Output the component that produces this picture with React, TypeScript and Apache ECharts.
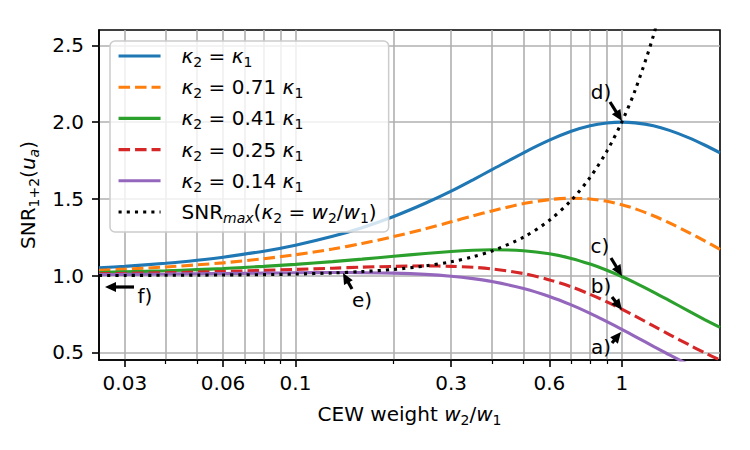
import React, { useEffect, useRef } from "react";
import * as echarts from "echarts";

// CEW weight ratio w2/w1 at which the curves are sampled
const weights = [0.025, 0.03, 0.04, 0.05, 0.06, 0.08, 0.1, 0.13, 0.16, 0.2, 0.25, 0.3, 0.35, 0.4, 0.5, 0.6, 0.7, 0.8, 0.9, 1.0, 1.1, 1.25, 1.4, 1.6, 1.8, 2.0];

// SNR_{1+2}(u_a) for each kappa ratio
const snrK100 = [1.05, 1.06, 1.08, 1.1, 1.12, 1.159, 1.198, 1.256, 1.312, 1.385, 1.471, 1.55, 1.624, 1.69, 1.8, 1.882, 1.94, 1.976, 1.994, 2.0, 1.995, 1.976, 1.946, 1.899, 1.849, 1.8];
const snrK071 = [1.035, 1.042, 1.056, 1.07, 1.083, 1.11, 1.136, 1.173, 1.209, 1.254, 1.305, 1.35, 1.389, 1.421, 1.469, 1.495, 1.504, 1.499, 1.484, 1.462, 1.435, 1.39, 1.343, 1.282, 1.224, 1.171];
const snrK041 = [1.02, 1.024, 1.031, 1.039, 1.046, 1.06, 1.073, 1.091, 1.107, 1.126, 1.144, 1.157, 1.165, 1.168, 1.162, 1.142, 1.112, 1.075, 1.035, 0.994, 0.953, 0.893, 0.837, 0.77, 0.712, 0.662];
const snrK025 = [1.012, 1.014, 1.018, 1.023, 1.027, 1.034, 1.04, 1.048, 1.055, 1.06, 1.063, 1.06, 1.054, 1.043, 1.013, 0.972, 0.927, 0.878, 0.829, 0.781, 0.736, 0.672, 0.616, 0.551, 0.496, 0.45];
const snrK014 = [1.006, 1.008, 1.01, 1.012, 1.013, 1.016, 1.018, 1.02, 1.019, 1.016, 1.008, 0.996, 0.98, 0.961, 0.916, 0.864, 0.809, 0.754, 0.7, 0.65, 0.603, 0.539, 0.483, 0.421, 0.37, 0.328];
// envelope SNR_max reached when kappa2/kappa1 equals w2/w1
const snrMax = [1.001, 1.001, 1.002, 1.003, 1.004, 1.006, 1.01, 1.017, 1.026, 1.04, 1.063, 1.09, 1.123, 1.16, 1.25, 1.36, 1.49, 1.64, 1.81, 2.0, 2.21, 2.563, 2.96];

const xMajorTicks = [0.03, 0.06, 0.1, 0.3, 0.6, 1];
const xMinorTicks = [0.04, 0.05, 0.07, 0.08, 0.09, 0.2, 0.4, 0.5, 0.7, 0.8, 0.9];
const yTicks = [0.5, 1.0, 1.5, 2.0, 2.5];

const FONT = "'DejaVu Sans', Verdana, sans-serif";
const BLACK = "#000000";
const GRID_GREY = "#b0b0b0";

const rich: Record<string, any> = {
  t: { fontSize: 20, fontFamily: FONT, color: BLACK, lineHeight: 26 },
  m: { fontSize: 20, fontFamily: FONT, fontStyle: "italic", color: BLACK, lineHeight: 26 },
  s: { fontSize: 14, fontFamily: FONT, color: BLACK, lineHeight: 14, verticalAlign: "bottom" },
  si: { fontSize: 14, fontFamily: FONT, fontStyle: "italic", color: BLACK, lineHeight: 14, verticalAlign: "bottom" },
  g: { width: 16, lineHeight: 26 },
};

type Curve = { name: string; label: string; values: number[]; color: string; dash: number[] | "solid" };

const curves: Curve[] = [
  { name: "κ2 = κ1", label: "{m|κ}{s|2}{t| = }{m|κ}{s|1}", values: snrK100, color: "#1f77b4", dash: "solid" },
  { name: "κ2 = 0.71 κ1", label: "{m|κ}{s|2}{t| = 0.71 }{m|κ}{s|1}", values: snrK071, color: "#ff7f0e", dash: [11.5, 5] },
  { name: "κ2 = 0.41 κ1", label: "{m|κ}{s|2}{t| = 0.41 }{m|κ}{s|1}", values: snrK041, color: "#2ca02c", dash: "solid" },
  { name: "κ2 = 0.25 κ1", label: "{m|κ}{s|2}{t| = 0.25 }{m|κ}{s|1}", values: snrK025, color: "#d62728", dash: [11.5, 5] },
  { name: "κ2 = 0.14 κ1", label: "{m|κ}{s|2}{t| = 0.14 }{m|κ}{s|1}", values: snrK014, color: "#9467bd", dash: "solid" },
  { name: "SNRmax(κ2 = w2/w1)", label: "{t|SNR}{si|max}{t|(}{m|κ}{s|2}{t| = }{m|w}{s|2}{t|/}{m|w}{s|1}{t|)}", values: snrMax, color: BLACK, dash: [3.1, 5.1] },
];

// annotation arrows: label text, label centre, arrow tail, arrow tip (pixels)
const notes = [
  { text: "d)", at: [601, 92], tail: [610, 102], tip: [622, 121] },
  { text: "c)", at: [600, 246], tail: [611, 258], tip: [622, 276] },
  { text: "b)", at: [601, 286], tail: [612, 297], tip: [622, 310] },
  { text: "a)", at: [601, 347], tail: [612, 343], tip: [621, 332] },
  { text: "e)", at: [362, 300], tail: [352, 289], tip: [343, 273] },
  { text: "f)", at: [145, 296], tail: [134, 287], tip: [105, 287] },
];

function arrowGraphics(tail: number[], tip: number[]) {
  const dx = tip[0] - tail[0];
  const dy = tip[1] - tail[1];
  const len = Math.hypot(dx, dy);
  const ux = dx / len;
  const uy = dy / len;
  const headLen = Math.min(11, len);
  const headHalf = 5;
  const bx = tip[0] - ux * headLen;
  const by = tip[1] - uy * headLen;
  const els: any[] = [];
  if (len > headLen) {
    els.push({
      type: "line",
      z: 100,
      shape: { x1: tail[0], y1: tail[1], x2: bx + ux, y2: by + uy },
      style: { stroke: BLACK, lineWidth: 3.2 },
    });
  }
  els.push({
    type: "polygon",
    z: 100,
    shape: {
      points: [
        [tip[0], tip[1]],
        [bx - uy * headHalf, by + ux * headHalf],
        [bx + uy * headHalf, by - ux * headHalf],
      ],
    },
    style: { fill: BLACK },
  });
  return els;
}

function buildOption() {
  const series: any[] = curves.map((c) => ({
    type: "line",
    name: c.name,
    data: c.values.map((v, i) => [weights[i], v]),
    symbol: "none",
    showSymbol: false,
    smooth: 0.3,
    clip: true,
    lineStyle: { color: c.color, width: 3.1, type: c.dash, cap: "butt" },
    itemStyle: { color: c.color },
    emphasis: { disabled: true },
  }));

  const labels: Record<string, string> = {};
  curves.forEach((c) => (labels[c.name] = "{g| }" + c.label));

  const graphics: any[] = [];
  notes.forEach((n) => {
    graphics.push({
      type: "text",
      z: 100,
      x: n.at[0],
      y: n.at[1],
      style: {
        text: n.text,
        fontSize: 20,
        fontFamily: FONT,
        fill: BLACK,
        align: "center",
        verticalAlign: "middle",
        textAlign: "center",
        textVerticalAlign: "middle",
      },
    });
    graphics.push(...arrowGraphics(n.tail, n.tip));
  });

  const tickStyle = { color: BLACK, width: 1.6 };
  const gridLine = { show: true, lineStyle: { color: GRID_GREY, width: 1.6 } };

  return {
    animation: false,
    backgroundColor: "#ffffff",
    textStyle: { fontFamily: FONT },
    grid: {
      left: 99,
      top: 30,
      right: 30,
      bottom: 90,
      show: true,
      borderColor: BLACK,
      borderWidth: 1.6,
      backgroundColor: "transparent",
      containLabel: false,
    },
    legend: {
      orient: "vertical",
      left: 110,
      top: 41,
      itemWidth: 42,
      itemHeight: 14,
      itemGap: 8.2,
      padding: [5, 12, 7, 7],
      backgroundColor: "rgba(255,255,255,0.8)",
      borderColor: "#cccccc",
      borderWidth: 1.5,
      borderRadius: 5,
      selectedMode: false,
      data: curves.map((c) => c.name),
      formatter: (name: string) => labels[name],
      itemStyle: { color: "rgba(0,0,0,0)", borderColor: "rgba(0,0,0,0)", borderWidth: 0 },
      lineStyle: { width: 3.1, cap: "butt" },
      textStyle: { fontSize: 20, fontFamily: FONT, color: BLACK, rich },
    },
    xAxis: [
      {
        type: "log",
        logBase: 10,
        min: 0.025,
        max: 2,
        name: "{t|CEW weight }{m|w}{s|2}{t|/}{m|w}{s|1}",
        nameLocation: "middle",
        nameGap: 41,
        nameTextStyle: { rich },
        axisLine: { show: true, lineStyle: { color: BLACK, width: 1.6 } },
        axisTick: { show: true, length: 7, lineStyle: tickStyle, customValues: xMajorTicks },
        axisLabel: {
          show: true,
          margin: 13,
          fontSize: 20,
          fontFamily: FONT,
          color: BLACK,
          customValues: xMajorTicks,
          formatter: (v: number) => String(v),
        },
        splitLine: gridLine,
        minorTick: { show: false },
        minorSplitLine: { show: false },
      },
      {
        type: "log",
        logBase: 10,
        min: 0.025,
        max: 2,
        position: "bottom",
        axisLine: { show: false },
        axisTick: { show: true, length: 4, lineStyle: { color: BLACK, width: 1.2 }, customValues: xMinorTicks },
        axisLabel: { show: false, customValues: xMinorTicks },
        splitLine: gridLine,
      },
    ],
    yAxis: {
      type: "value",
      min: 0.45,
      max: 2.6,
      name: "{t|SNR}{s|1+2}{t|(}{m|u}{si|a}{t|)}",
      nameLocation: "middle",
      nameGap: 52,
      nameTextStyle: { rich },
      axisLine: { show: true, lineStyle: { color: BLACK, width: 1.6 } },
      axisTick: { show: true, length: 7, lineStyle: tickStyle, customValues: yTicks },
      axisLabel: {
        show: true,
        margin: 15,
        fontSize: 20,
        fontFamily: FONT,
        color: BLACK,
        customValues: yTicks,
        formatter: (v: number) => v.toFixed(1),
      },
      splitLine: gridLine,
    },
    series,
    graphic: graphics,
  };
}

const App = () => {
  const ref = useRef<HTMLDivElement>(null);
  useEffect(() => {
    if (!ref.current) return;
    const chart = echarts.init(ref.current, null, { renderer: "svg" });
    chart.setOption(buildOption() as any);
    return () => chart.dispose();
  }, []);
  return (
    <div
      ref={ref}
      style={{ position: "absolute", left: 0, top: 0, width: 750, height: 450, background: "#ffffff" }}
    />
  );
};

export default App;
